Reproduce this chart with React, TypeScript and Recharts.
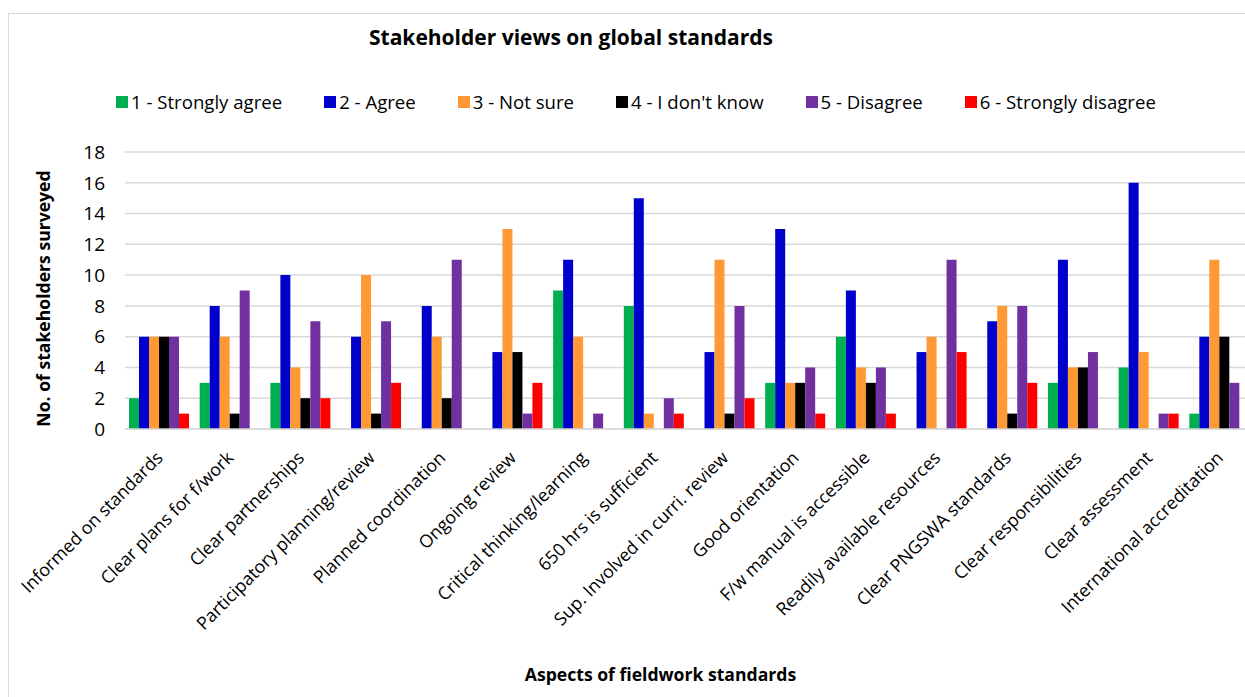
import React from 'react';
import { BarChart, Bar, XAxis, YAxis, CartesianGrid, Label } from 'recharts';

const categories = [
  'Informed on standards',
  'Clear plans for f/work',
  'Clear partnerships',
  'Participatory planning/review',
  'Planned coordination',
  'Ongoing review',
  'Critical thinking/learning',
  '650 hrs is sufficient',
  'Sup. Involved in curri. review',
  'Good orientation',
  'F/w manual is accessible',
  'Readily available resources',
  'Clear PNGSWA standards',
  'Clear responsibilities',
  'Clear assessment',
  'International accreditation',
];

const stronglyAgree = [2, 3, 3, 0, 0, 0, 9, 8, 0, 3, 6, 0, 0, 3, 4, 1];
const agree = [6, 8, 10, 6, 8, 5, 11, 15, 5, 13, 9, 5, 7, 11, 16, 6];
const notSure = [6, 6, 4, 10, 6, 13, 6, 1, 11, 3, 4, 6, 8, 4, 5, 11];
const dontKnow = [6, 1, 2, 1, 2, 5, 0, 0, 1, 3, 3, 0, 1, 4, 0, 6];
const disagree = [6, 9, 7, 7, 11, 1, 1, 2, 8, 4, 4, 11, 8, 5, 1, 3];
const stronglyDisagree = [1, 0, 2, 3, 0, 3, 0, 1, 2, 1, 1, 5, 3, 0, 1, 0];

const yTicks = [0, 2, 4, 6, 8, 10, 12, 14, 16, 18];

const seriesDefs = [
  { key: 's1', name: '1 - Strongly agree', color: '#00B050', values: stronglyAgree },
  { key: 's2', name: '2 - Agree', color: '#0000CC', values: agree },
  { key: 's3', name: '3 - Not sure', color: '#FF9933', values: notSure },
  { key: 's4', name: "4 - I don't know", color: '#000000', values: dontKnow },
  { key: 's5', name: '5 - Disagree', color: '#7030A0', values: disagree },
  { key: 's6', name: '6 - Strongly disagree', color: '#FF0000', values: stronglyDisagree },
];

const data = categories.map((c, i) => {
  const row: Record<string, string | number> = { name: c };
  seriesDefs.forEach((s) => {
    row[s.key] = s.values[i];
  });
  return row;
});

const FONT = '"Open Sans", "Liberation Sans", Arial, sans-serif';

const XTick = (props: any) => {
  const { x, y, payload } = props;
  return (
    <g transform={`translate(${x},${y})`}>
      <text
        x={0}
        y={0}
        dx={-13}
        dy={18}
        textAnchor="end"
        transform="rotate(-45)"
        fontFamily={FONT}
        fontSize={17.8}
        fill="#000"
      >
        {payload.value}
      </text>
    </g>
  );
};

export default function App() {
  return (
    <div
      style={{
        position: 'fixed',
        left: 0,
        top: 0,
        width: 1245,
        height: 697,
        overflow: 'hidden',
        background: '#fff',
      }}
    >
      <div
        style={{
          position: 'absolute',
          left: 8,
          top: 13,
          width: 1300,
          height: 760,
          border: '1.5px solid #D9D9D9',
          boxSizing: 'border-box',
        }}
      />
      <div
        style={{
          position: 'absolute',
          left: 271,
          top: 23,
          width: 600,
          textAlign: 'center',
          fontFamily: FONT,
          fontWeight: 700,
          fontSize: 21,
          color: '#000',
          whiteSpace: 'nowrap',
        }}
      >
        Stakeholder views on global standards
      </div>
      <div
        style={{
          position: 'absolute',
          left: 116,
          top: 89,
          display: 'flex',
          alignItems: 'center',
          fontFamily: FONT,
          fontSize: 18.6,
          color: '#000',
        }}
      >
        {seriesDefs.map((s) => (
          <div key={s.key} style={{ display: 'flex', alignItems: 'center', marginRight: 42 }}>
            <span style={{ display: 'inline-block', width: 12, height: 12, background: s.color, marginRight: 3 }} />
            <span style={{ whiteSpace: 'nowrap' }}>{s.name}</span>
          </div>
        ))}
      </div>
      <div style={{ position: 'absolute', left: 0, top: 0 }}>
        <BarChart
          width={1270}
          height={697}
          data={data}
          margin={{ top: 152, right: 14, bottom: 0, left: 0 }}
          barGap={0}
          barCategoryGap={4}
        >
          <CartesianGrid vertical={false} stroke="#D9D9D9" strokeWidth={1.5} />
          <XAxis
            dataKey="name"
            interval={0}
            height={268}
            tick={<XTick />}
            tickLine={false}
            axisLine={{ stroke: '#D9D9D9', strokeWidth: 1.5 }}
          >
            <Label
              value="Aspects of fieldwork standards"
              position="insideBottom"
              offset={16}
              dx={-30}
              style={{ fontFamily: FONT, fontWeight: 700, fontSize: 17.6, fill: '#000' }}
            />
          </XAxis>
          <YAxis
            domain={[0, 18]}
            ticks={yTicks}
            interval={0}
            width={125}
            tickLine={false}
            axisLine={false}
            tickMargin={14}
            tick={{ fontFamily: FONT, fontSize: 19, fill: '#000' }}
          >
            <Label
              value="No. of stakeholders surveyed"
              angle={-90}
              position="center"
              dx={-19}
              dy={8}
              style={{ fontFamily: FONT, fontWeight: 700, fontSize: 17.6, fill: '#000', textAnchor: 'middle' }}
            />
          </YAxis>
          {seriesDefs.map((s) => (
            <Bar key={s.key} dataKey={s.key} name={s.name} fill={s.color} isAnimationActive={false} />
          ))}
        </BarChart>
      </div>
    </div>
  );
}
